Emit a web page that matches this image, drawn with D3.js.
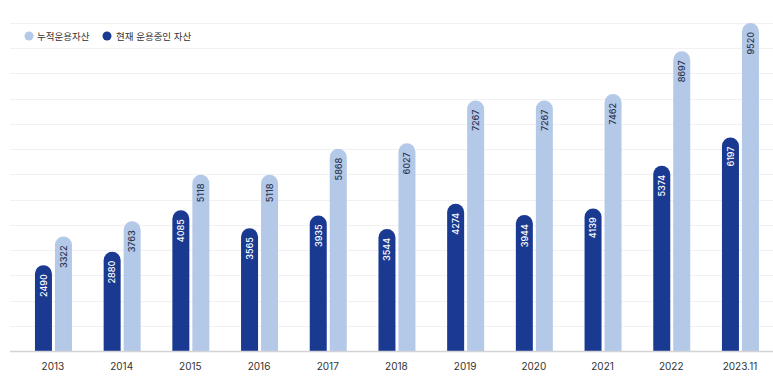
<!DOCTYPE html>
<html>
<head>
    <meta charset="utf-8">
    <script src="https://d3js.org/d3.v7.min.js"></script>
    <style>
        body { margin: 0; background: #fff; }
        text { font-family: Inter, "Noto Sans CJK KR", sans-serif; }
    </style>
</head>
<body>
<div id="chart"></div>
<script>
    const width = 773;
    const height = 387;

    // data
    const years = ["2013", "2014", "2015", "2016", "2017", "2018", "2019", "2020", "2021", "2022", "2023.11"];
    const current_assets = [2490, 2880, 4085, 3565, 3935, 3544, 4274, 3944, 4139, 5374, 6197];
    const total_assets = [3322, 3763, 5118, 5118, 5868, 6027, 7267, 7267, 7462, 8697, 9520];
    const legend_labels = ["누적운용자산", "현재 운용중인 자산"];

    const dark_color = "#1a3a92";
    const light_color = "#b4c8e8";

    const baseline_y = 351;
    const top_y = 23;
    const grid_count = 13;

    const svg = d3.select("#chart")
        .append("svg")
        .attr("width", width)
        .attr("height", height);

    const x = d3.scaleBand()
        .domain(years)
        .range([18.6, 774.3])
        .padding(0);

    const y = d3.scaleLinear()
        .domain([0, 9520])
        .range([baseline_y, top_y]);

    // grid lines
    const grid_vals = d3.range(1, grid_count + 1).map(i => i * 9520 / grid_count);
    svg.selectAll(".grid")
        .data(grid_vals)
        .enter()
        .append("line")
        .attr("x1", 10)
        .attr("x2", width)
        .attr("y1", d => Math.round(y(d)) + 0.5)
        .attr("y2", d => Math.round(y(d)) + 0.5)
        .attr("stroke", "#f1f1f3")
        .attr("stroke-width", 1);

    bar_w = 17;
    gap = 3;

    function bar_path(x0, v) {
        const y0 = y(v);
        const r = bar_w / 2;
        return `M${x0},${baseline_y} L${x0},${y0 + r} A${r},${r} 0 0 1 ${x0 + bar_w},${y0 + r} L${x0 + bar_w},${baseline_y} Z`;
    }

    const groups = svg.selectAll(".group")
        .data(years)
        .enter()
        .append("g")
        .attr("transform", d => `translate(${x(d) + x.bandwidth() / 2},0)`);

    // dark bars (current)
    groups.append("path")
        .attr("d", (d, i) => bar_path(-bar_w - gap / 2 + 0.5, current_assets[i]))
        .attr("fill", dark_color);

    // light bars (total)
    groups.append("path")
        .attr("d", (d, i) => bar_path(gap / 2 + 0.5, total_assets[i]))
        .attr("fill", light_color);

    // value labels
    groups.append("text")
        .attr("transform", (d, i) => `translate(${-bar_w / 2 - gap / 2 + 0.5 + 3.3},${y(current_assets[i]) + 9}) rotate(-90)`)
        .attr("text-anchor", "end")
        .attr("font-size", 9)
        .attr("font-weight", 500)
        .attr("fill", "#ffffff")
        .text((d, i) => current_assets[i]);

    groups.append("text")
        .attr("transform", (d, i) => `translate(${bar_w / 2 + gap / 2 + 0.5 + 3.3},${y(total_assets[i]) + 9}) rotate(-90)`)
        .attr("text-anchor", "end")
        .attr("font-size", 9)
        .attr("font-weight", 500)
        .attr("fill", "#2b3550")
        .text((d, i) => total_assets[i]);

    // baseline
    svg.append("line")
        .attr("x1", 10)
        .attr("x2", width)
        .attr("y1", baseline_y + 0.5)
        .attr("y2", baseline_y + 0.5)
        .attr("stroke", "#d4d4d8")
        .attr("stroke-width", 1.5);

    // x axis labels
    const xAxis = d3.axisBottom(x).tickSize(0).tickPadding(12);
    const ax = svg.append("g")
        .attr("transform", `translate(0,${baseline_y})`)
        .call(xAxis);
    ax.select(".domain").remove();
    ax.selectAll("text")
        .attr("font-family", "Inter, sans-serif")
        .attr("font-size", 10)
        .attr("fill", "#333");

    // legend
    const legend_items = [
        { label: legend_labels[0], color: light_color, cx: 29, tx: 37 },
        { label: legend_labels[1], color: dark_color, cx: 107, tx: 116 }
    ];
    const leg = svg.selectAll(".legend")
        .data(legend_items)
        .enter()
        .append("g");
    leg.append("circle")
        .attr("cx", d => d.cx)
        .attr("cy", 36)
        .attr("r", 4.5)
        .attr("fill", d => d.color);
    leg.append("text")
        .attr("x", d => d.tx)
        .attr("y", 39.5)
        .attr("font-size", 9.5)
        .attr("fill", "#333")
        .text(d => d.label);
</script>
</body>
</html>
